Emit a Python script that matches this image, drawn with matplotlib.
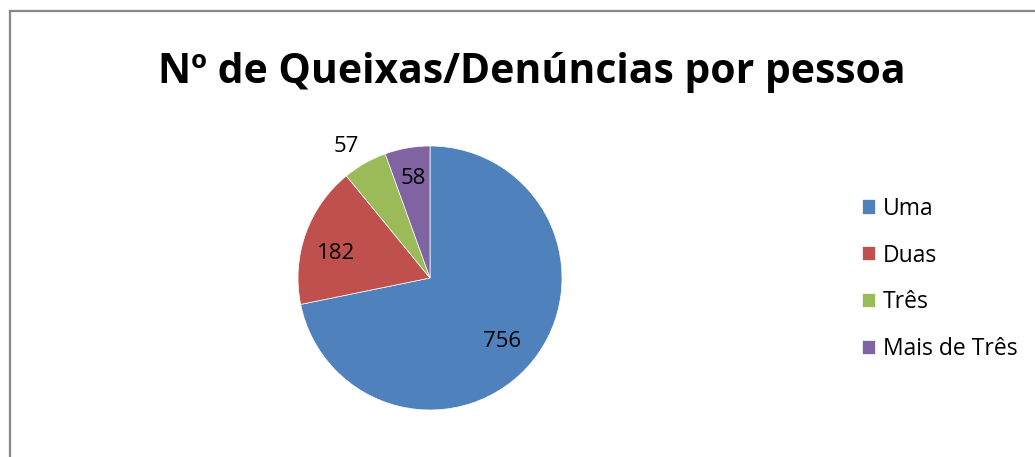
import matplotlib
matplotlib.use("Agg")
import matplotlib.pyplot as plt
import numpy as np
from matplotlib.lines import Line2D

categories = ["Uma", "Duas", "Três", "Mais de Três"]
values = [756, 182, 57, 58]
title = "Nº de Queixas/Denúncias por pessoa"

colors = ["#4F81BD", "#C0504D", "#9BBB59", "#8064A2"]
label_dist = [0.715, 0.741, 1.197, 0.783]
label_ang_off = [-1.1, 3.5, 2.2, -0.7]

plt.rcParams['font.family'] = ['Open Sans', 'DejaVu Sans']

W, H = 1035, 457
fig = plt.figure(figsize=(W / 100, H / 100), dpi=100)
fig.patch.set_facecolor("white")

cx, cy, r = 430, H - 278, 132
ax = fig.add_axes([(cx - r) / W, (cy - r) / H, 2 * r / W, 2 * r / H])
wedges, _ = ax.pie(values, colors=colors, startangle=90, counterclock=False,
                   wedgeprops=dict(edgecolor="white", linewidth=0.5))
ax.set_xlim(-1, 1)
ax.set_ylim(-1, 1)
ax.set_aspect("equal")
ax.axis("off")

lab_fs = 16
half_digit = (lab_fs * 100 / 72 * 0.714 / 2) / r
for w, v, d, off in zip(wedges, values, label_dist, label_ang_off):
    ang = np.deg2rad((w.theta1 + w.theta2) / 2 + off)
    ax.text(d * np.cos(ang), d * np.sin(ang) - half_digit, str(v), ha="center",
            va="baseline", fontsize=lab_fs, color="black")

fig.text(532 / W, 1 - 72 / H, title, ha="center", va="center",
         fontsize=29.4, fontweight="bold", color="black")

leg = fig.legend(wedges, categories, loc="center left",
                 bbox_to_anchor=(862 / W, 1 - 279 / H), frameon=False,
                 borderpad=0, borderaxespad=0,
                 fontsize=16.5, handlelength=0.57, handleheight=0.57,
                 handletextpad=0.35, labelspacing=1.0)

# chart border (left and top visible)
fig.add_artist(Line2D([10 / W, 10 / W], [0, 1 - 10.5 / H], transform=fig.transFigure,
                      color="#878787", linewidth=1.6))
fig.add_artist(Line2D([10 / W, 1], [1 - 10.5 / H, 1 - 10.5 / H], transform=fig.transFigure,
                      color="#878787", linewidth=1.6))

fig.savefig("out.png", dpi=100)
